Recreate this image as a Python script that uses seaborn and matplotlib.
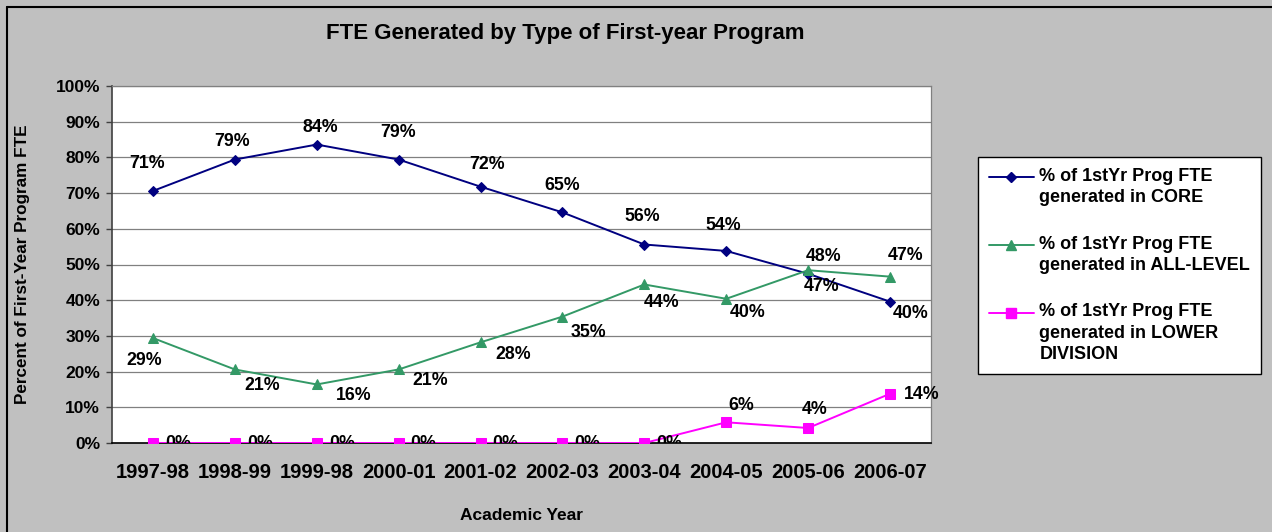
import numpy as np
import pandas as pd
import matplotlib
matplotlib.use("Agg")
import matplotlib.pyplot as plt
from matplotlib.lines import Line2D
from matplotlib.font_manager import FontProperties
from matplotlib.legend_handler import HandlerLine2D
import seaborn as sns

# ---------------- data ----------------
years = ["1997-98", "1998-99", "1999-98", "2000-01", "2001-02",
         "2002-03", "2003-04", "2004-05", "2005-06", "2006-07"]
core = [70.6, 79.4, 83.6, 79.4, 71.8, 64.6, 55.6, 53.8, 47.4, 39.6]
all_level = [29.4, 20.6, 16.4, 20.6, 28.2, 35.4, 44.4, 40.4, 48.4, 46.6]
lower_div = [0.0, 0.0, 0.0, 0.0, 0.0, 0.0, 0.0, 5.8, 4.2, 13.8]
series_names = ["% of 1stYr Prog FTE\ngenerated in CORE",
                "% of 1stYr Prog FTE\ngenerated in ALL-LEVEL",
                "% of 1stYr Prog FTE\ngenerated in LOWER\nDIVISION"]
y_ticks = list(range(0, 101, 10))

# ---------------- style / layout ----------------
colors = ["#000080", "#339966", "#FF00FF"]
markers = ["D", "^", "s"]
msizes = [4.6, 7.2, 6.6]
# label offsets in pixels (dx, dy)
offsets = [
    [(-6, 27), (-3, 18), (4, 17), (-1, 27), (7, 22), (0, 27), (-2, 28), (-3, 25), (13, -13), (21, -12)],
    [(-9, -22), (27, -16), (37, -11), (32, -11), (33, -12), (26, -16), (17, -18), (21, -14), (15, 14), (16, 21)],
    [(25, 0), (25, 0), (25, 0), (25, 0), (25, 0), (25, 0), (25, 0), (15, 17), (6, 19), (32, -1)],
]

sns.set_style("white")
plt.rcParams["font.family"] = ["Liberation Sans", "DejaVu Sans"]
plt.rcParams["text.color"] = "black"
plt.rcParams["axes.labelcolor"] = "black"
plt.rcParams["xtick.color"] = "black"
plt.rcParams["ytick.color"] = "black"

W, H = 1272, 532
fig = plt.figure(figsize=(W / 100, H / 100), dpi=100)
fig.patch.set_facecolor("#C0C0C0")
ax = fig.add_axes([112 / W, 1 - 443 / H, (931 - 112) / W, (443 - 86) / H])
ax.set_facecolor("white")

pos = np.arange(len(years))
all_series = [core, all_level, lower_div]
df = pd.DataFrame({
    "pos": np.tile(pos, 3),
    "value": np.concatenate(all_series),
    "series": np.repeat(series_names, len(years)),
})

handles = []
for i, name in enumerate(series_names):
    sub = df[df["series"] == name]
    sns.lineplot(data=sub, x="pos", y="value", ax=ax, color=colors[i],
                 marker=markers[i], markersize=msizes[i], markeredgecolor=colors[i],
                 markerfacecolor=colors[i], linewidth=1.4, label=name, zorder=3 + i)
    handles.append(Line2D([0], [0], color=colors[i], marker=markers[i],
                          markersize=msizes[i], linewidth=1.4))
    for j, v in enumerate(sub["value"]):
        dx, dy = offsets[i][j]
        ax.annotate(f"{round(v)}%", xy=(sub["pos"].iloc[j], v), xytext=(dx, dy),
                    textcoords="offset pixels", ha="center", va="center",
                    fontsize=12.8, fontweight="bold", color="black",
                    annotation_clip=False, clip_on=(v == 0), zorder=10)

ax.set_xlim(-0.5, len(years) - 0.5)
ax.set_ylim(0, 100)
ax.set_yticks(y_ticks)
ax.set_yticklabels([f"{t}%" for t in y_ticks], fontsize=12.5, fontweight="bold")
ax.set_xticks(pos)
ax.set_xticklabels(years, fontsize=14.5, fontweight="bold")
ax.set_xticks(np.arange(-0.5, len(years)), minor=True)
ax.tick_params(axis="x", which="major", length=0, pad=14.5)
ax.tick_params(axis="x", which="minor", length=4, width=1, color="black", direction="out")
ax.tick_params(axis="y", which="major", length=4, width=1, color="#404040", direction="out", pad=4.5, left=True)
ax.grid(axis="y", color="#808080", linewidth=0.9)
ax.set_axisbelow(True)
ax.set_xlabel("")
ax.set_ylabel("")
for s in ["top", "right"]:
    ax.spines[s].set_visible(True)
    ax.spines[s].set_color("#808080")
    ax.spines[s].set_linewidth(0.9)
ax.spines["left"].set_color("#404040")
ax.spines["left"].set_linewidth(1.2)
ax.spines["bottom"].set_color("black")
ax.spines["bottom"].set_linewidth(1.2)

LEG_FS = 13
LEG_LS = 1.34
line_step = LEG_FS * 0.85 * LEG_LS


class TopAlignHandler(HandlerLine2D):
    def __init__(self, shift, **kw):
        super().__init__(**kw)
        self.shift = shift

    def create_artists(self, legend, orig_handle, xdescent, ydescent, width, height,
                       fontsize, trans):
        arts = super().create_artists(legend, orig_handle, xdescent, ydescent, width,
                                      height, fontsize, trans)
        for a in arts:
            a.set_ydata(np.asarray(a.get_ydata(), dtype=float) + self.shift)
        return arts


hmap = {h: TopAlignHandler((n.count("\n")) / 2 * line_step)
        for h, n in zip(handles, series_names)}

leg = ax.legend(handles, series_names, loc="upper left", handler_map=hmap,
                bbox_to_anchor=(978 / W, 1 - 157 / H), bbox_transform=fig.transFigure,
                borderaxespad=0,
                frameon=True, fancybox=False, edgecolor="black", framealpha=1,
                facecolor="white",
                prop=FontProperties(family="Liberation Sans", weight="bold", size=LEG_FS),
                handlelength=2.5, handletextpad=0.3, labelspacing=1.62, borderpad=0.6)
for t in leg.get_texts():
    t.set_linespacing(LEG_LS)
leg.get_frame().set_linewidth(1.0)

fig.text(565 / W, 1 - 33 / H, "FTE Generated by Type of First-year Program",
         ha="center", va="center", fontsize=16, fontweight="bold")
fig.text(521 / W, 1 - 515 / H, "Academic Year", ha="center", va="center",
         fontsize=12.5, fontweight="bold")
fig.text(23 / W, 1 - 264 / H, "Percent of First-Year Program FTE", ha="center", va="center",
         rotation=90, fontsize=12.3, fontweight="bold")

fig.add_artist(Line2D([7 / W, 1], [1 - 7 / H, 1 - 7 / H], transform=fig.transFigure,
                      color="black", linewidth=1.5))
fig.add_artist(Line2D([7 / W, 7 / W], [0, 1 - 7 / H], transform=fig.transFigure,
                      color="black", linewidth=1.5))

fig.savefig("out.png", dpi=100, facecolor=fig.get_facecolor())
